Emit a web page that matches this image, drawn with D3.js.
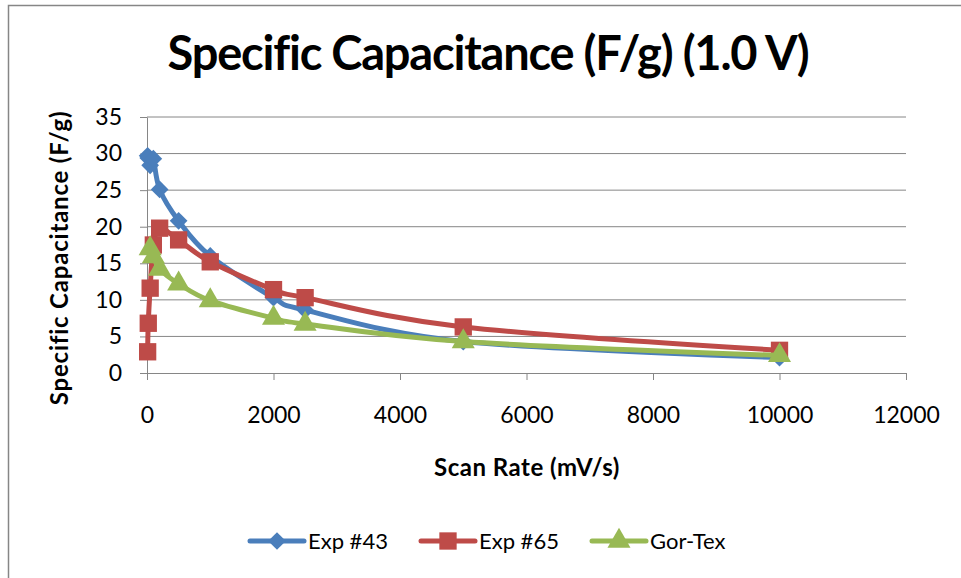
<!DOCTYPE html>
<html>
<head>
<meta charset="utf-8">
<script src="https://cdn.jsdelivr.net/npm/d3@7"></script>
<style>
  body { margin: 0; background: #fff; }
  svg { display: block; font-family: Lato, "Open Sans", sans-serif; }
</style>
</head>
<body>
<div class="js-chart"></div>
<script>
const scanRates = [10, 20, 50, 100, 200, 500, 1000, 2000, 2500, 5000, 10000];
const exp43 = [29.7, 29.4, 28.4, 29.3, 25.1, 20.8, 16.0, 10.3, 8.6, 4.3, 2.1];
const exp65 = [2.9, 6.8, 11.6, 17.5, 19.8, 18.2, 15.2, 11.4, 10.3, 6.3, 3.1];
const gorTexRates = [50, 100, 200, 500, 1000, 2000, 2500, 5000, 10000];
const gorTex = [17.0, 15.9, 14.2, 12.2, 9.9, 7.5, 6.7, 4.3, 2.4];
const xTicks = [0, 2000, 4000, 6000, 8000, 10000, 12000];
const yTicks = [0, 5, 10, 15, 20, 25, 30, 35];

const series = [
  { name: 'Exp #43', color: '#4a7ebb', shape: 'diamond', xs: scanRates, ys: exp43 },
  { name: 'Exp #65', color: '#be4b48', shape: 'square', xs: scanRates, ys: exp65 },
  { name: 'Gor-Tex', color: '#98b954', shape: 'triangle', xs: gorTexRates, ys: gorTex }
];

const width = 961;
const height = 578;
const plot = { left: 147, right: 906, top: 117, bottom: 373 };

const svg = d3.select('.js-chart').append('svg')
  .attr('width', width)
  .attr('height', height);

// chart frame (right and bottom fall outside the window)
svg.append('rect')
  .attr('x', 8.5).attr('y', 5.5)
  .attr('width', 1000).attr('height', 1000)
  .attr('fill', 'none')
  .attr('stroke', '#868686')
  .attr('stroke-width', 1.5);

const x = d3.scaleLinear().domain([0, 12000]).range([plot.left, plot.right]);
const y = d3.scaleLinear().domain([0, 35]).range([plot.bottom, plot.top]);

// gridlines
svg.append('g')
  .selectAll('line')
  .data(yTicks.slice(1))
  .join('line')
  .attr('x1', plot.left).attr('x2', plot.right)
  .attr('y1', d => y(d)).attr('y2', d => y(d))
  .attr('stroke', '#868686')
  .attr('stroke-width', 1);

// axes
const xAxis = svg.append('g')
  .attr('transform', `translate(0,${plot.bottom})`)
  .call(d3.axisBottom(x).tickValues(xTicks).tickFormat(d3.format('d'))
    .tickSize(7).tickPadding(27).tickSizeOuter(0));
const yAxis = svg.append('g')
  .attr('transform', `translate(${plot.left},0)`)
  .call(d3.axisLeft(y).tickValues(yTicks).tickFormat(d3.format('d'))
    .tickSize(7).tickPadding(18).tickSizeOuter(0));

[xAxis, yAxis].forEach(ax => {
  ax.select('.domain').attr('stroke', '#868686');
  ax.selectAll('.tick line').attr('stroke', '#868686');
  ax.selectAll('.tick text')
    .attr('fill', '#000')
    .style('font-size', '23px')
    .style('font-family', 'Lato, "Open Sans", sans-serif');
});

// titles
svg.append('text')
  .attr('x', 488).attr('y', 70)
  .attr('text-anchor', 'middle')
  .style('font-size', '47px')
  .style('font-weight', 'bold')
  .style('letter-spacing', '-1.2px')
  .text('Specific Capacitance (F/g) (1.0 V)');

svg.append('text')
  .attr('x', 527).attr('y', 476)
  .attr('text-anchor', 'middle')
  .style('font-size', '24px')
  .style('font-weight', 'bold')
  .style('letter-spacing', '0.5px')
  .text('Scan Rate (mV/s)');

svg.append('text')
  .attr('transform', 'translate(68,258)rotate(-90)')
  .attr('text-anchor', 'middle')
  .style('font-size', '24px')
  .style('font-weight', 'bold')
  .style('letter-spacing', '0.8px')
  .text('Specific Capacitance (F/g)');

const symbolFor = shape => {
  if (shape === 'diamond') return d3.symbol().type(d3.symbolDiamond2).size(200);
  if (shape === 'square') return d3.symbol().type(d3.symbolSquare).size(300);
  return d3.symbol().type(d3.symbolTriangle).size(230);
};

const line = d3.line()
  .x(d => x(d[0]))
  .y(d => y(d[1]))
  .curve(d3.curveCardinal.tension(0));

series.forEach(s => {
  const pts = s.xs.map((v, i) => [v, s.ys[i]]);
  const g = svg.append('g');
  g.append('path')
    .datum(pts)
    .attr('d', line)
    .attr('fill', 'none')
    .attr('stroke', s.color)
    .attr('stroke-width', 5)
    .attr('stroke-linejoin', 'round');
  g.selectAll('path.marker')
    .data(pts)
    .join('path')
    .attr('class', 'marker')
    .attr('transform', d => `translate(${x(d[0])},${y(d[1])})`)
    .attr('d', symbolFor(s.shape))
    .attr('fill', s.color);
});

// legend
const legendX = [250, 421, 592];
const legend = svg.append('g')
  .selectAll('g')
  .data(series)
  .join('g')
  .attr('transform', (d, i) => `translate(${legendX[i]},541)`);
legend.append('line')
  .attr('x1', 0).attr('x2', 54)
  .attr('stroke', d => d.color)
  .attr('stroke-width', 5)
  .attr('stroke-linecap', 'round');
legend.append('path')
  .attr('transform', 'translate(27,0)')
  .attr('d', d => symbolFor(d.shape)())
  .attr('fill', d => d.color);
legend.append('text')
  .attr('x', 58).attr('y', 8)
  .style('font-size', '22px')
  .text(d => d.name);
</script>
</body>
</html>
